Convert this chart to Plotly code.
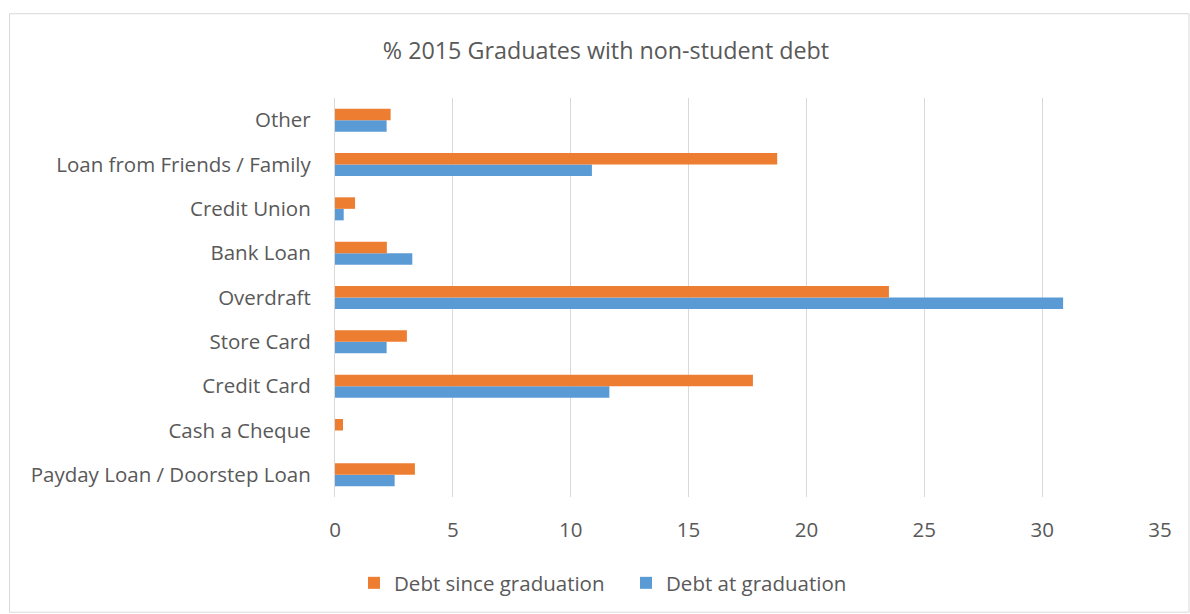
import plotly.graph_objects as go

categories = ["Payday Loan / Doorstep Loan", "Cash a Cheque", "Credit Card", "Store Card",
              "Overdraft", "Bank Loan", "Credit Union", "Loan from Friends / Family", "Other"]
debt_since = [3.39, 0.34, 17.73, 3.05, 23.5, 2.2, 0.85, 18.76, 2.36]
debt_at = [2.53, 0.0, 11.64, 2.19, 30.89, 3.28, 0.37, 10.9, 2.19]
x_ticks = [0, 5, 10, 15, 20, 25, 30, 35]

W, H = 1190, 614
ml, mr, mt, mb = 335, 30, 98, 116
pw, ph = W - ml - mr, H - mt - mb

def px_x(p):
    return (p - ml) / pw

def px_y(p):
    return (H - mb - p) / ph

font = "Open Sans"
txt = "#595959"
fs = 20.5

fig = go.Figure()
fig.add_trace(go.Bar(y=categories, x=debt_at, orientation="h", name="Debt at graduation",
                     marker=dict(color="#5B9BD5", line=dict(width=0)), legendrank=2))
fig.add_trace(go.Bar(y=categories, x=debt_since, orientation="h", name="Debt since graduation",
                     marker=dict(color="#ED7D31", line=dict(width=0)), legendrank=1))

fig.update_layout(
    width=W, height=H,
    margin=dict(l=ml, r=mr, t=mt, b=mb, pad=0),
    paper_bgcolor="white", plot_bgcolor="white",
    barmode="group", bargap=0.48, bargroupgap=0,
    font=dict(family=font, color=txt, size=fs),
    title=dict(text="% 2015 Graduates with non-student debt", x=606 / W, xref="container",
               xanchor="center", y=1 - 51 / H, yref="container", yanchor="middle",
               font=dict(size=23.3, color=txt, family=font)),
    xaxis=dict(range=[0, 35], tickvals=x_ticks, showgrid=True, gridcolor="#D9D9D9", gridwidth=1.3,
               zeroline=False, showline=False, ticks="", ticklabelstandoff=18,
               tickfont=dict(size=fs, color=txt)),
    yaxis=dict(showgrid=False, showline=True, linecolor="#D9D9D9", linewidth=1.3, ticks="",
               ticklabelstandoff=19, tickfont=dict(size=fs, color=txt)),
    legend=dict(orientation="h", x=px_x(354), xanchor="left", y=px_y(583), yanchor="middle",
                font=dict(size=fs, color=txt), itemwidth=30, traceorder="normal",
                entrywidth=227, entrywidthmode="pixels", tracegroupgap=0),
    showlegend=True,
)

fig.add_shape(type="rect", xref="paper", yref="paper",
              x0=px_x(9.5), x1=px_x(1189), y0=px_y(613.5), y1=px_y(13.5),
              line=dict(color="#D9D9D9", width=1), fillcolor="rgba(0,0,0,0)", layer="below")

fig.write_html("out.html")
